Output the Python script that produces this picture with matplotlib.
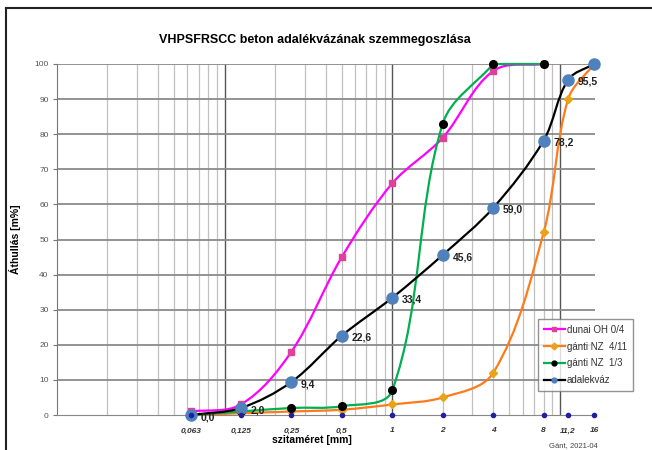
import numpy as np
import matplotlib
matplotlib.use("Agg")
import matplotlib.pyplot as plt
from matplotlib.path import Path
from matplotlib.patches import PathPatch
from matplotlib.lines import Line2D

plt.rcParams['font.family'] = ['Liberation Sans', 'DejaVu Sans']

sieves = [0.063, 0.125, 0.25, 0.5, 1, 2, 4, 8, 11.2, 16]
sieve_labels = ["0,063", "0,125", "0,25", "0,5", "1", "2", "4", "8", "11,2", "16"]

dunai = [1, 3, 18, 45, 66, 79, 98, 100, np.nan, np.nan]
ganti_411 = [0, 0.5, 1, 1.5, 3, 5, 12, 52, 90, 100]
ganti_13 = [0, 1, 2, 2.5, 7, 83, 100, 100, np.nan, np.nan]
adalek = [0.0, 2.0, 9.4, 22.6, 33.4, 45.6, 59.0, 78.2, 95.5, 100]
adalek_labels = ["0,0", "2,0", "9,4", "22,6", "33,4", "45,6", "59,0", "78,2", "95,5", ""]

series_names = ["dunai OH 0/4", "gánti NZ  4/11", "gánti NZ  1/3", "adalekváz"]
line_colors = ["#FF00FF", "#FF7A1A", "#00B050", "#000000"]
marker_colors = ["#E0409A", "#E8A317", "#000000", "#4F81BD"]

fig = plt.figure(figsize=(6.52, 4.5), dpi=100)
ax = fig.add_axes([57/652, 35/450, (595-57)/652, (415-64)/450])

PX_DEC = 167.0   # pixels per decade (x)
PX_UNIT = 3.51   # pixels per percent (y)


def smooth_path(xs, ys):
    xs = np.asarray(xs, float)
    ys = np.asarray(ys, float)
    ok = np.isfinite(ys)
    xs, ys = xs[ok], ys[ok]
    # flat tail at 100 %: draw it straight (no overshoot)
    full = np.where(ys >= 100)[0]
    cut = full[0] + 1 if len(full) else len(xs)
    cx, cy = xs[:cut], ys[:cut]
    px = np.log10(cx) * PX_DEC
    py = cy * PX_UNIT
    P = np.column_stack([px, py])
    n = len(P)
    T = np.zeros_like(P)
    for i in range(n):
        a = P[max(i - 1, 0)]
        b = P[min(i + 1, n - 1)]
        d = b - a
        T[i] = d / (np.hypot(*d) or 1)
    verts = [(cx[0], cy[0])]
    codes = [Path.MOVETO]
    for i in range(n - 1):
        L = np.hypot(*(P[i + 1] - P[i])) / 3
        c1 = P[i] + T[i] * L
        c2 = P[i + 1] - T[i + 1] * L
        for c in (c1, c2):
            verts.append((10 ** (c[0] / PX_DEC), c[1] / PX_UNIT))
        verts.append((cx[i + 1], cy[i + 1]))
        codes += [Path.CURVE4] * 3
    for x, y in zip(xs[cut:], ys[cut:]):
        verts.append((x, y))
        codes.append(Path.LINETO)
    return Path(verts, codes)


all_series = [dunai, ganti_411, ganti_13, adalek]
msizes = [4, 4, 5.5, 8]
mshapes = ["s", "D", "o", "o"]
zorders = [4, 3, 5, 6]
for vals, lc, mc, ms, mk, z in zip(all_series, line_colors, marker_colors, msizes, mshapes, zorders):
    p = PathPatch(smooth_path(sieves, vals), fill=False, edgecolor=lc, lw=1.6, zorder=z, clip_on=False)
    ax.add_patch(p)
    ax.plot(sieves, vals, ls="none", marker=mk, ms=ms, color=mc, zorder=z + 0.5, clip_on=False)

# sieve markers on axis
ax.plot(sieves, [0] * len(sieves), ls="none", marker="o", ms=3, color="#1F1F9F", zorder=8, clip_on=False)

for xv, yv, lab in zip(sieves, adalek, adalek_labels):
    if lab:
        ax.annotate(lab, (xv, yv), xytext=(7, -1.5), textcoords="offset points",
                    fontsize=7.5, fontweight="bold", color="#222222", va="center", ha="left", zorder=9)

ax.set_xscale("log")
ax.set_xlim(0.01, 16.2)
ax.set_ylim(0, 100)
ax.set_yticks(np.arange(0, 101, 10))
ax.tick_params(axis="y", labelsize=6, labelcolor="#555555", length=3, color="#777777", pad=3)
ax.set_xticks(sieves)
ax.set_xticklabels(sieve_labels, fontsize=6, fontstyle="italic", fontweight="bold", color="#333333")
ax.tick_params(axis="x", which="both", length=0, pad=9)
ax.xaxis.set_minor_formatter(matplotlib.ticker.NullFormatter())

# grid
for d in [0.01, 0.1, 1, 10]:
    for k in range(1, 10):
        v = d * k
        if 0.01 < v < 16.2:
            if k == 1:
                ax.axvline(v, color="#555555", lw=1.0, zorder=1)
            else:
                ax.axvline(v, color="#C0C0C0", lw=0.9, zorder=1)
for yv in range(10, 101, 10):
    ax.axhline(yv, color="#8A8A8A", lw=1.3, zorder=1)

for s in ["top", "right"]:
    ax.spines[s].set_visible(False)
ax.spines["left"].set_color("#777777")
ax.spines["bottom"].set_color("#888888")

ax.set_ylabel("Áthullás [m%]", fontsize=7.5, fontweight="bold", labelpad=10)
fig.text(312/652, 1 - 440/450, "szitaméret [mm]", fontsize=7.5, fontweight="bold", ha="center", va="center")
fig.text(598/652, 1 - 446/450, "Gánt, 2021-04", fontsize=5.5, color="#444444", ha="right", va="center")
fig.text(315/652, 1 - 40/450, "VHPSFRSCC beton adalékvázának szemmegoszlása", fontsize=9, fontweight="bold",
         ha="center", va="center")

handles = [Line2D([], [], color=lc, lw=1.6, marker=mk, ms=3.5, markerfacecolor=mc, markeredgecolor=mc)
           for lc, mc, mk in zip(line_colors, marker_colors, ["s", "D", "o", "o"])]
leg = fig.legend(handles, series_names, loc="upper left", bbox_to_anchor=(533/652, 1 - 314/450),
                 fontsize=7, frameon=True, fancybox=False, handlelength=2.2, handletextpad=0.2,
                 labelspacing=0.7, borderpad=0.6, labelcolor="#333333")
leg.get_frame().set_edgecolor("#777777")
leg.get_frame().set_linewidth(1.0)

# outer frame (top and left)
fig.add_artist(Line2D([6/652, 1], [1 - 8/450, 1 - 8/450], color="#222222", lw=1.5, transform=fig.transFigure))
fig.add_artist(Line2D([6/652, 6/652], [0, 1 - 8/450], color="#222222", lw=1.5, transform=fig.transFigure))

fig.savefig("out.png", dpi=100)
